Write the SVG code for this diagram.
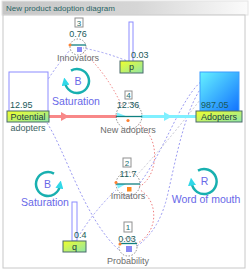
<svg xmlns="http://www.w3.org/2000/svg" width="250" height="273" viewBox="0 0 250 273">
<defs>
<linearGradient id="title" x1="0" y1="0" x2="1" y2="0"><stop offset="0" stop-color="#c6c6c6"/><stop offset="0.55" stop-color="#d6d6d6"/><stop offset="1" stop-color="#fbfbfb"/></linearGradient>
<linearGradient id="lbl" x1="0" y1="0" x2="1" y2="1"><stop offset="0" stop-color="#f2ff2a"/><stop offset="1" stop-color="#8ee6a8"/></linearGradient>
<linearGradient id="adp" x1="0" y1="0" x2="1" y2="1"><stop offset="0" stop-color="#66f2ff"/><stop offset="1" stop-color="#1070ff"/></linearGradient>
<marker id="loopArr" viewBox="0 0 10 10" refX="3" refY="5" markerWidth="8" markerHeight="8" markerUnits="userSpaceOnUse" orient="auto"><path d="M0,0 L10,5 L0,10 Z" fill="#30d8e8"/></marker>
<style>
text{font-family:"Liberation Sans",Arial,sans-serif}
.val{font-size:9px;fill:#1a5a5a}
.cv{font-size:9px;fill:#1a5a5a;text-anchor:middle}
.lab{font-size:9px;fill:#6c6c6c;text-anchor:middle}
.blab{font-size:9px;fill:#203c3c;text-anchor:middle}
.num{fill:#fff;stroke:#909090;stroke-width:1}
.numt{font-size:8px;fill:#207070;text-anchor:middle}
.ring{fill:none;stroke:#8a8a8a;stroke-width:1;stroke-dasharray:1.5 1.5}
.bar{fill:none;stroke:#108080;stroke-width:1.3}
.loop{fill:none;stroke:#18b0b0;stroke-width:2.5}
.lt{font-size:10.5px;fill:#6868e8;text-anchor:middle}
.lk{fill:none;stroke:#9c9cf2;stroke-width:1;stroke-dasharray:2 2}
.pk{fill:none;stroke:#f08080;stroke-width:1;stroke-dasharray:1.5 2}
.gy{fill:none;stroke:#c4c4d0;stroke-width:1;stroke-dasharray:2 2}
.lbox{fill:url(#lbl);stroke:#4a6a6a;stroke-width:1}
.const{fill:#fff;stroke:#8c8cff;stroke-width:1}
</style>
</defs>
<g id="title-bar">
<rect x="2" y="1" width="246" height="14" fill="url(#title)" stroke="#e4e4e4"/>
<text x="6" y="11" font-size="8" fill="#2a6464">New product adoption diagram</text>
</g>
<rect id="frame" x="3" y="15" width="242" height="253" fill="#fff" stroke="#c8c8c8"/>

<g id="connectors">
<path class="lk" d="M31,110 Q46,78 70,50"/>
<path class="lk" d="M130,62 Q105,52 83,48"/>
<path class="pk" d="M83,52 Q106,72 122,106"/>
<path class="lk" d="M47,123 C65,150 85,220 119,250"/>
<path class="lk" d="M80,234 Q95,210 116,190"/>
<path class="lk" d="M218,73 C185,78 172,140 140,183"/>
<path class="lk" d="M220,73 C190,80 178,150 168,193 Q160,230 137,246"/>
<path class="gy" d="M136,176 Q165,145 200,100"/>
<path class="pk" d="M139,187 C160,175 160,135 138,124"/>
<path class="pk" d="M136,244 C160,232 158,200 140,190"/>
<line x1="49" y1="116.5" x2="117" y2="116.5" stroke="#f88888" stroke-width="3"/>
<polygon points="61,112 69,116.5 61,121" fill="#f88888"/>
<line x1="141" y1="116.5" x2="196" y2="116.5" stroke="#80f0ff" stroke-width="3"/>
<polygon points="164,112 172,116.5 164,121" fill="#80f0ff"/>
</g>

<g id="potential-adopters">
<rect class="const" x="9" y="72" width="39" height="40"/>
<text class="val" x="10" y="108">12.95</text>
<rect class="lbox" x="7" y="111" width="42" height="11"/>
<text class="blab" x="28" y="120">Potential</text>
<text class="lab" x="28" y="131" style="fill:#3a6262">adopters</text>
</g>

<g id="adopters">
<rect x="200" y="72" width="39" height="40" fill="url(#adp)" stroke="#3a9cff"/>
<text class="val" x="201" y="108">987.05</text>
<rect class="lbox" x="196" y="111" width="46" height="11"/>
<text class="blab" x="219" y="120">Adopters</text>
</g>

<g id="p">
<rect class="const" x="129" y="22" width="4" height="40"/>
<text class="val" x="131" y="58">0.03</text>
<rect class="lbox" x="120" y="61" width="23" height="12"/>
<text class="blab" x="131.5" y="70">p</text>
</g>

<g id="q">
<rect class="const" x="72" y="202" width="5" height="39"/>
<text class="val" x="74" y="238">0.4</text>
<rect class="lbox" x="63" y="241" width="23" height="11"/>
<text class="blab" x="74.5" y="250">q</text>
</g>

<g id="innovators">
<rect class="num" x="75" y="18" width="8" height="9"/>
<text class="numt" x="79" y="25.5">3</text>
<text class="cv" x="78" y="37">0.76</text>
<circle class="ring" cx="78" cy="47" r="8"/>
<line class="bar" x1="70" y1="45" x2="86" y2="45"/>
<circle cx="70" cy="45" r="1.5" fill="#ff8030"/>
<rect x="77" y="47" width="5" height="5" fill="#8a8af4"/>
<text class="lab" x="78" y="61">Innovators</text>
</g>

<g id="new-adopters">
<rect class="num" x="125" y="91" width="7" height="8"/>
<text class="numt" x="128.5" y="97.5">4</text>
<text class="cv" x="128" y="108">12.36</text>
<circle class="ring" cx="129" cy="116" r="13"/>
<polygon points="117,112.5 117,116.5 127,116.5" fill="#80f0ff"/>
<line class="bar" x1="116" y1="116.5" x2="142" y2="116.5"/>
<circle cx="128" cy="120.5" r="1.6" fill="#ff8030"/>
<text class="lab" x="128" y="133">New adopters</text>
</g>

<g id="imitators">
<rect class="num" x="123" y="158" width="8" height="9"/>
<text class="numt" x="127" y="165.5">2</text>
<text class="cv" x="128" y="177">11.7</text>
<circle class="ring" cx="128" cy="184" r="12"/>
<path d="M116.5,184 L126,184 L118,188.5 Z" fill="#80eeff"/>
<line class="bar" x1="116" y1="184" x2="140" y2="184"/>
<circle cx="116" cy="182.5" r="1.5" fill="#ff8030"/>
<rect x="127" y="187" width="4.5" height="4.5" fill="#ff8a20"/>
<text class="lab" x="128" y="199">Imitators</text>
</g>

<g id="probability">
<rect class="num" x="124" y="222" width="8" height="10"/>
<text class="numt" x="128" y="230">1</text>
<text class="cv" x="127" y="242">0.03</text>
<circle class="ring" cx="128" cy="247" r="9"/>
<line class="bar" x1="119" y1="243.5" x2="137" y2="243.5"/>
<circle cx="120" cy="244" r="1.5" fill="#ff8030"/>
<rect x="126" y="246" width="6" height="6" fill="#8a8af4"/>
<text class="lab" x="128" y="264">Probability</text>
</g>

<g id="loop-saturation-1">
<path class="loop" d="M71,70.6 A12,12 0 1,1 65.2,83.1" marker-end="url(#loopArr)"/>
<text class="lt" x="78" y="85">B</text>
<text class="lt" x="76" y="105">Saturation</text>
</g>

<g id="loop-saturation-2">
<path class="loop" d="M54,173.6 A12,12 0 1,0 59.8,186.1" marker-end="url(#loopArr)"/>
<text class="lt" x="47.5" y="188">B</text>
<text class="lt" x="45" y="206">Saturation</text>
</g>

<g id="loop-word-of-mouth">
<path class="loop" d="M198,170.6 A12.5,12.5 0 1,1 191.7,183.2" marker-end="url(#loopArr)"/>
<text class="lt" x="204.5" y="185">R</text>
<text class="lt" x="206" y="203">Word of mouth</text>
</g>
</svg>
